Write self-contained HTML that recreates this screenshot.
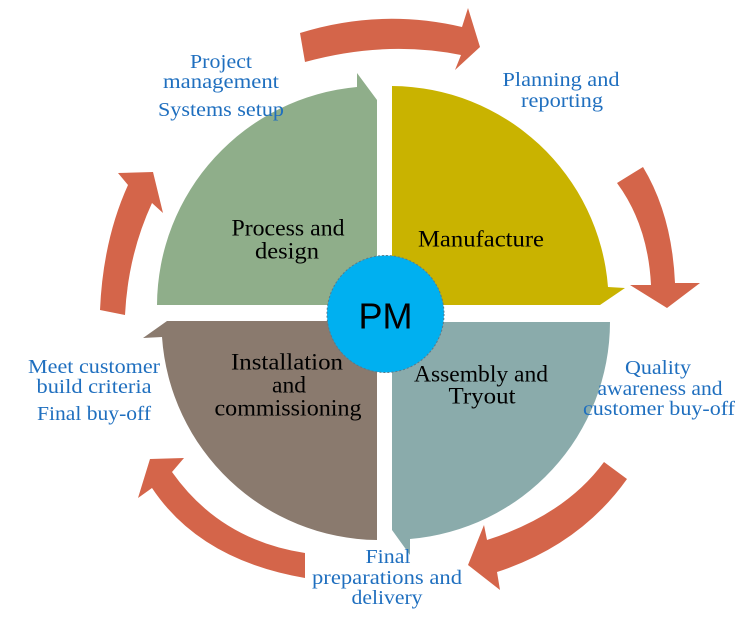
<!DOCTYPE html>
<html><head><meta charset="utf-8"><style>
html,body{margin:0;padding:0;background:#fff;}
svg{display:block;}
.b{font-family:"Liberation Serif",serif;font-size:20px;fill:#1f6fbf;}
.k{font-family:"Liberation Serif",serif;font-size:23px;fill:#000;}
</style></head><body>
<svg width="755" height="630" viewBox="0 0 755 630" xmlns="http://www.w3.org/2000/svg">
<g fill="#d4654a">
<path d="M300,33 Q380,8 462,27 L468,8 L480,47 L455,70 L461,55 Q385,40 305,62 Z"/>
<path d="M617,183 L643,167 Q672,215 675,283 L700,283 L667,308 L630,285 L651,285 Q648,225 617,183 Z"/>
<path d="M604,462 L627,479 Q580,545 497,572 L500,590 L468,565 L484,525 L487,540 Q565,515 604,462 Z"/>
<path d="M305,553 Q220,540 172,472 L184,458 L150,459 L138,498 L152,488 Q200,560 305,578 Z"/>
<path d="M100,310 Q103,240 128,185 L118,173 L153,172 L163,213 L152,203 Q128,255 125,315 Z"/>
</g>
<path d="M377,305 L157,305 A220 220 0 0 1 357,87 L357,73 L377,100 Z" fill="#8fae8a"/>
<path d="M392,305 L392,86 A218 218 0 0 1 608,287 L625,288 L600,305 Z" fill="#c9b300"/>
<path d="M392,322 L610,322 A218 218 0 0 1 410,539 L410,555 L392,530 Z" fill="#8aabab"/>
<path d="M377,321 L377,540 A218 218 0 0 1 162,337 L143,338 L167,321 Z" fill="#8a7a6e"/>
<circle cx="385.5" cy="314" r="58.5" fill="#00b0f0" stroke="#5a7a8a" stroke-width="1" stroke-dasharray="2,2"/>
<text x="385.5" y="316" text-anchor="middle" dominant-baseline="central" font-family="Liberation Sans,sans-serif" font-size="36" fill="#000">PM</text>
<g text-anchor="middle" dominant-baseline="central" lengthAdjust="spacingAndGlyphs">
<text class="b" x="221" y="62" textLength="62" lengthAdjust="spacingAndGlyphs">Project</text>
<text class="b" x="221" y="82" textLength="116" lengthAdjust="spacingAndGlyphs">management</text>
<text class="b" x="221" y="110" textLength="126" lengthAdjust="spacingAndGlyphs">Systems setup</text>
<text class="b" x="561" y="80" textLength="117" lengthAdjust="spacingAndGlyphs">Planning and</text>
<text class="b" x="562" y="101" textLength="82" lengthAdjust="spacingAndGlyphs">reporting</text>
<text class="b" x="658" y="368" textLength="66" lengthAdjust="spacingAndGlyphs">Quality</text>
<text class="b" x="660" y="389" textLength="125" lengthAdjust="spacingAndGlyphs">awareness and</text>
<text class="b" x="659" y="409" textLength="152" lengthAdjust="spacingAndGlyphs">customer buy-off</text>
<text class="b" x="388" y="557" textLength="45" lengthAdjust="spacingAndGlyphs">Final</text>
<text class="b" x="387" y="578" textLength="150" lengthAdjust="spacingAndGlyphs">preparations and</text>
<text class="b" x="387" y="598" textLength="71" lengthAdjust="spacingAndGlyphs">delivery</text>
<text class="b" x="94" y="367" textLength="132" lengthAdjust="spacingAndGlyphs">Meet customer</text>
<text class="b" x="94" y="387" textLength="115" lengthAdjust="spacingAndGlyphs">build criteria</text>
<text class="b" x="94" y="414" textLength="114" lengthAdjust="spacingAndGlyphs">Final buy-off</text>
<text class="k" x="288" y="228" textLength="113" lengthAdjust="spacingAndGlyphs">Process and</text>
<text class="k" x="287" y="251" textLength="64" lengthAdjust="spacingAndGlyphs">design</text>
<text class="k" x="481" y="239" textLength="126" lengthAdjust="spacingAndGlyphs">Manufacture</text>
<text class="k" x="287" y="362" textLength="112" lengthAdjust="spacingAndGlyphs">Installation</text>
<text class="k" x="289" y="385" textLength="34" lengthAdjust="spacingAndGlyphs">and</text>
<text class="k" x="288" y="408" textLength="147" lengthAdjust="spacingAndGlyphs">commissioning</text>
<text class="k" x="481" y="374" textLength="134" lengthAdjust="spacingAndGlyphs">Assembly and</text>
<text class="k" x="482" y="396" textLength="67" lengthAdjust="spacingAndGlyphs">Tryout</text>
</g>
</svg>
</body></html>
